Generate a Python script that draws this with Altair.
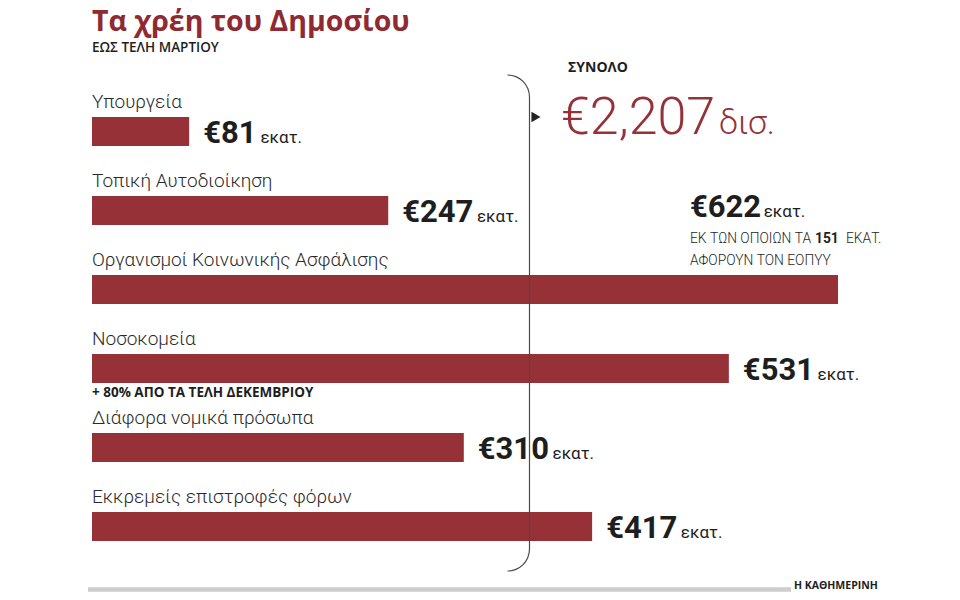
import altair as alt
import pandas as pd

# ---- data ----
categories = [
    "Υπουργεία",
    "Τοπική Αυτοδιοίκηση",
    "Οργανισμοί Κοινωνικής Ασφάλισης",
    "Νοσοκομεία",
    "Διάφορα νομικά πρόσωπα",
    "Εκκρεμείς επιστροφές φόρων",
]
values = [81, 247, 622, 531, 310, 417]          # εκατ. ευρώ
value_labels = ["€81", "€247", "€622", "€531", "€310", "€417"]
unit_label = "εκατ."

title_text = "Τα χρέη του Δημοσίου"
subtitle_text = "ΕΩΣ ΤΕΛΗ ΜΑΡΤΙΟΥ"
total_caption = "ΣΥΝΟΛΟ"
total_value = "€2,207"
total_unit = "δισ."
note_efka = ["ΕΚ ΤΩΝ ΟΠΟΙΩΝ ΤΑ", "151", "ΕΚΑΤ.", "ΑΦΟΡΟΥΝ ΤΟΝ ΕΟΠΥΥ"]
note_hosp = "+ 80% ΑΠΟ ΤΑ ΤΕΛΗ ΔΕΚΕΜΒΡΙΟΥ"
source_text = "Η ΚΑΘΗΜΕΡΙΝΗ"

# ---- style ----
RED = "#963137"
TITLE_RED = "#8f2a32"
INK = "#1e1e1e"
ROBOTO = "Roboto"
SANS = "Open Sans"
NUM_SIZE = 31
CHAR_W = 0.562 * NUM_SIZE   # Roboto Bold tabular figure width
UNIT_SIZE = 17

W, H = 944, 584

df = pd.DataFrame({
    "cat": categories,
    "value": values,
    "label": value_labels,
    "row": list(range(len(categories))),
    "zero": [0] * len(categories),
    "unit": [unit_label] * len(categories),
})

xs = alt.Scale(domain=[0, max(values)], range=[84, 830], nice=False, zero=True)
ys = alt.Scale(domain=[0, len(categories) - 1], range=[118.5, 523.5], nice=False, zero=False)
PX_PER_UNIT = (830 - 84) / max(values)

X0 = alt.X("zero:Q", scale=xs, axis=None)
XV = alt.X("value:Q", scale=xs, axis=None)
Y = alt.Y("row:Q", scale=ys, axis=None)

base = alt.Chart(df)

bars = base.mark_bar(orient="horizontal", height=29, color=RED).encode(
    x=X0, x2="value:Q", y=Y
)

cat_labels = base.mark_text(
    align="left", baseline="alphabetic", dy=-23.5, font=ROBOTO, fontWeight=300,
    fontSize=19, color="#2a2a2a"
).encode(x=X0, y=Y, text="cat:N")

nums = base.transform_filter("datum.row != 2").mark_text(
    align="left", baseline="alphabetic", dx=14, dy=11, font=ROBOTO,
    fontWeight="bold", fontSize=NUM_SIZE, color=INK
).encode(x=XV, y=Y, text="label:N")

units = base.transform_filter("datum.row != 2").transform_calculate(
    ux=f"datum.value + (length(datum.label) * {CHAR_W:.3f} + 19) / {PX_PER_UNIT:.5f}"
).mark_text(
    align="left", baseline="alphabetic", dy=11, font=ROBOTO,
    fontSize=UNIT_SIZE, color=INK
).encode(x=alt.X("ux:Q", scale=xs, axis=None), y=Y, text="unit:N")


def txt(text, x, y, **kw):
    return alt.Chart(pd.DataFrame({"t": [text]})).mark_text(
        align="left", baseline="alphabetic", **kw
    ).encode(x=alt.value(x), y=alt.value(y), text="t:N")


title = txt(title_text, 84, 22.5, font=SANS, fontWeight="bold", fontSize=28.5, color=TITLE_RED)
subtitle = txt(subtitle_text, 84, 43.5, font=SANS, fontWeight=600, fontSize=13.5, color=INK)

total_cap = txt(total_caption, 560, 64, font=SANS, fontWeight="bold", fontSize=14, color=INK)
total_val = txt(total_value, 553, 126, font=ROBOTO, fontWeight=300, fontSize=52, color=RED)
total_un = txt(total_unit, 711, 126, font=ROBOTO, fontWeight=300, fontSize=34, color=RED)

efka_num = txt(value_labels[2], 682, 209, font=ROBOTO, fontWeight="bold", fontSize=NUM_SIZE, color=INK)
efka_unit = txt(unit_label, 682 + 4 * CHAR_W + 4, 209, font=ROBOTO, fontSize=UNIT_SIZE, color=INK)
efka_n1 = txt(note_efka[0], 682, 235, font=ROBOTO, fontWeight=300, fontSize=13.8, color=INK)
efka_n2 = txt(note_efka[1], 807, 235, font=ROBOTO, fontWeight="bold", fontSize=13.8, color=INK)
efka_n3 = txt(note_efka[2], 838, 235, font=ROBOTO, fontWeight=300, fontSize=13.8, color=INK)
efka_n4 = txt(note_efka[3], 682, 257, font=ROBOTO, fontWeight=300, fontSize=13.8, color=INK)

hosp = txt(note_hosp, 84, 389, font=SANS, fontWeight="bold", fontSize=13.5, color=INK)

one = pd.DataFrame({"k": [0]})
BR = "#4a4a4a"
brace_line = alt.Chart(one).mark_rule(color=BR, strokeWidth=1.2).encode(
    x=alt.value(521.5), y=alt.value(89), y2=alt.value(541)
)
brace_top = alt.Chart(one).mark_arc(
    radius=22.6, radius2=21.4, theta=0, theta2=1.5708, color=BR
).encode(x=alt.value(499.5), y=alt.value(89))
brace_bot = alt.Chart(one).mark_arc(
    radius=22.6, radius2=21.4, theta=1.5708, theta2=3.1416, color=BR
).encode(x=alt.value(499.5), y=alt.value(541))
arrow = alt.Chart(one).mark_point(
    shape="triangle-right", filled=True, size=110, color="#222", opacity=1
).encode(x=alt.value(528), y=alt.value(109))

footer_line = alt.Chart(one).mark_rule(color="#cdcdcd", strokeWidth=4.5).encode(
    x=alt.value(80), x2=alt.value(783), y=alt.value(581.5)
)
source = txt(source_text, 786, 581, font=SANS, fontWeight="bold", fontSize=10.5, color=INK)

chart = alt.layer(
    bars, brace_line, brace_top, brace_bot, arrow,
    cat_labels, nums, units,
    title, subtitle, total_cap, total_val, total_un,
    efka_num, efka_unit, efka_n1, efka_n2, efka_n3, efka_n4,
    hosp, footer_line, source,
).properties(
    width=W, height=H,
    autosize=alt.AutoSizeParams(type="none"),
    padding=0,
).configure_view(stroke=None)

chart.save("out.html", embed_options={"renderer": "svg", "actions": False})
